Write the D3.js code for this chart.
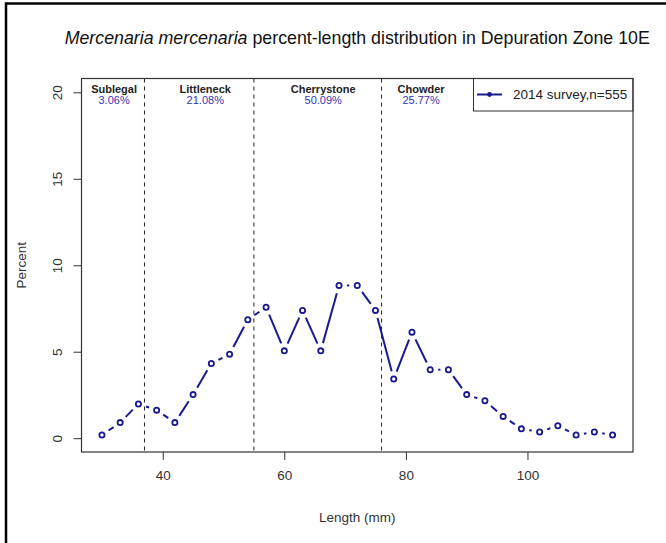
<!DOCTYPE html>
<html>
<head>
<meta charset="utf-8">
<script src="https://cdn.jsdelivr.net/npm/d3@7"></script>
<style>
  body { margin: 0; background: #fff; }
  text { font-family: "Liberation Sans", Arial, sans-serif; }
</style>
</head>
<body>
<script>
// Width and height
var w = 666;
var h = 543;

// shell length bins (mm) and percent of clams in each
var lengths = [30, 33, 36, 39, 42, 45, 48, 51, 54, 57, 60, 63, 66, 69, 72, 75,
               78, 81, 84, 87, 90, 93, 96, 99, 102, 105, 108, 111, 114];
var percent = [0.18, 0.90, 1.98, 1.62, 0.90, 2.52, 4.32, 4.86, 6.85, 7.57, 5.05, 7.39, 5.05, 8.83, 8.83, 7.39,
               3.42, 6.13, 3.96, 3.96, 2.52, 2.16, 1.26, 0.54, 0.36, 0.72, 0.18, 0.36, 0.18];

// size classes
var classes = ["Sublegal", "Littleneck", "Cherrystone", "Chowder"];
var classShare = ["3.06%", "21.08%", "50.09%", "25.77%"];
var classLabelX = [32, 47, 66.4, 82.5];
var classBreaks = [37, 55, 76];

var xTicks = [40, 60, 80, 100];
var yTicks = [0, 5, 10, 15, 20];

var legendLabel = "2014 survey,n=555";
var blue = "#1a1a8e";

// plot box
var boxL = 81.5, boxR = 633, boxT = 78.5, boxB = 452;

// R style 4% padding on x range, ylim 0..20
var xPad = (d3.max(lengths) - d3.min(lengths)) * 0.04;
var xScale = d3.scaleLinear()
               .domain([d3.min(lengths) - xPad, d3.max(lengths) + xPad])
               .range([boxL, boxR]);
var yScale = d3.scaleLinear()
               .domain([-0.8, 20.8])
               .range([boxB, boxT]);

var svg = d3.select("body")
            .append("svg")
            .attr("width", w)
            .attr("height", h);

// outer frame (left and top edges)
svg.append("path")
   .attr("d", "M6,543 V3.5 H666")
   .attr("fill", "none")
   .attr("stroke", "#000")
   .attr("stroke-width", 2.5);

// Title
var title = svg.append("text")
   .attr("x", (boxL + boxR) / 2)
   .attr("y", 44)
   .attr("text-anchor", "middle")
   .attr("font-size", "17.8px")
   .attr("fill", "#111");
title.append("tspan").attr("font-style", "italic").text("Mercenaria mercenaria");
title.append("tspan").text(" percent-length distribution in Depuration Zone 10E");

// X axis
var xAxis = d3.axisBottom(xScale).tickValues(xTicks).tickSize(8).tickPadding(10).tickFormat(d3.format("d"));
var gx = svg.append("g")
   .attr("transform", "translate(0," + boxB + ")")
   .call(xAxis);
gx.select(".domain").remove();
gx.selectAll("line").attr("stroke", "#333");
gx.selectAll("text").attr("font-size", "13.5px").attr("fill", "#333")
  .attr("font-family", "Liberation Sans, Arial, sans-serif");

// Y axis with rotated labels
var yAxis = d3.axisLeft(yScale).tickValues(yTicks).tickSize(8).tickFormat(d3.format("d"));
var gy = svg.append("g")
   .attr("transform", "translate(" + boxL + ",0)")
   .call(yAxis);
gy.select(".domain").remove();
gy.selectAll("line").attr("stroke", "#333");
gy.selectAll("text")
  .attr("font-size", "13.5px").attr("fill", "#333")
  .attr("font-family", "Liberation Sans, Arial, sans-serif")
  .attr("text-anchor", "middle")
  .attr("dy", null)
  .attr("x", 0).attr("y", 0)
  .attr("transform", "translate(-23,0) rotate(-90)")
  .attr("dominant-baseline", "middle");

// axis titles
svg.append("text")
   .attr("x", (boxL + boxR) / 2)
   .attr("y", 522)
   .attr("text-anchor", "middle")
   .attr("font-size", "13.5px")
   .attr("fill", "#333")
   .text("Length (mm)");
svg.append("text")
   .attr("transform", "translate(26," + (boxT + boxB) / 2 + ") rotate(-90)")
   .attr("text-anchor", "middle")
   .attr("font-size", "13.5px")
   .attr("fill", "#333")
   .text("Percent");

// class boundaries
svg.selectAll("line.brk")
   .data(classBreaks)
   .enter()
   .append("line")
   .attr("class", "brk")
   .attr("x1", function(d) { return xScale(d); })
   .attr("x2", function(d) { return xScale(d); })
   .attr("y1", boxT)
   .attr("y2", boxB)
   .attr("stroke", "#222")
   .attr("stroke-width", 1)
   .attr("stroke-dasharray", "4,4");

// class labels
svg.selectAll("text.cls")
   .data(classes)
   .enter()
   .append("text")
   .attr("class", "cls")
   .attr("x", function(d, i) { return xScale(classLabelX[i]); })
   .attr("y", 92.5)
   .attr("text-anchor", "middle")
   .attr("font-size", "11px")
   .attr("font-weight", "bold")
   .attr("fill", "#222")
   .text(function(d) { return d; });
svg.selectAll("text.share")
   .data(classShare)
   .enter()
   .append("text")
   .attr("class", "share")
   .attr("x", function(d, i) { return xScale(classLabelX[i]); })
   .attr("y", 104)
   .attr("text-anchor", "middle")
   .attr("font-size", "11px")
   .attr("fill", "#3535b0")
   .text(function(d) { return d; });

// line segments with gaps around points (R type="b")
var gap = 8;
var segs = [];
for (var i = 0; i < lengths.length - 1; i++) {
    var x1 = xScale(lengths[i]), y1 = yScale(percent[i]);
    var x2 = xScale(lengths[i + 1]), y2 = yScale(percent[i + 1]);
    var dx = x2 - x1, dy = y2 - y1, len = Math.sqrt(dx * dx + dy * dy);
    if (len > 2 * gap) {
        segs.push([x1 + dx / len * gap, y1 + dy / len * gap, x2 - dx / len * gap, y2 - dy / len * gap]);
    }
}
svg.selectAll("line.seg")
   .data(segs)
   .enter()
   .append("line")
   .attr("class", "seg")
   .attr("x1", function(d) { return d[0]; })
   .attr("y1", function(d) { return d[1]; })
   .attr("x2", function(d) { return d[2]; })
   .attr("y2", function(d) { return d[3]; })
   .attr("stroke", blue)
   .attr("stroke-width", 2);

// points
svg.selectAll("circle.pt")
   .data(percent)
   .enter()
   .append("circle")
   .attr("class", "pt")
   .attr("cx", function(d, i) { return xScale(lengths[i]); })
   .attr("cy", function(d) { return yScale(d); })
   .attr("r", 2.6)
   .attr("fill", "#fff")
   .attr("stroke", blue)
   .attr("stroke-width", 1.8);

// legend
var lg = svg.append("g");
lg.append("rect")
  .attr("x", 473.5).attr("y", boxT)
  .attr("width", boxR - 473.5).attr("height", 32.5)
  .attr("fill", "#fff").attr("stroke", "#333").attr("stroke-width", 1);
lg.append("line")
  .attr("x1", 477).attr("x2", 502).attr("y1", 94.5).attr("y2", 94.5)
  .attr("stroke", blue).attr("stroke-width", 2);
lg.append("circle")
  .attr("cx", 489.5).attr("cy", 94.5).attr("r", 2.4)
  .attr("fill", blue);
lg.append("text")
  .attr("x", 513).attr("y", 99)
  .attr("font-size", "13.5px").attr("fill", "#222")
  .text(legendLabel);

// plot box
svg.append("rect")
   .attr("x", boxL).attr("y", boxT)
   .attr("width", boxR - boxL).attr("height", boxB - boxT)
   .attr("fill", "none").attr("stroke", "#333").attr("stroke-width", 1.2);
</script>
</body>
</html>
